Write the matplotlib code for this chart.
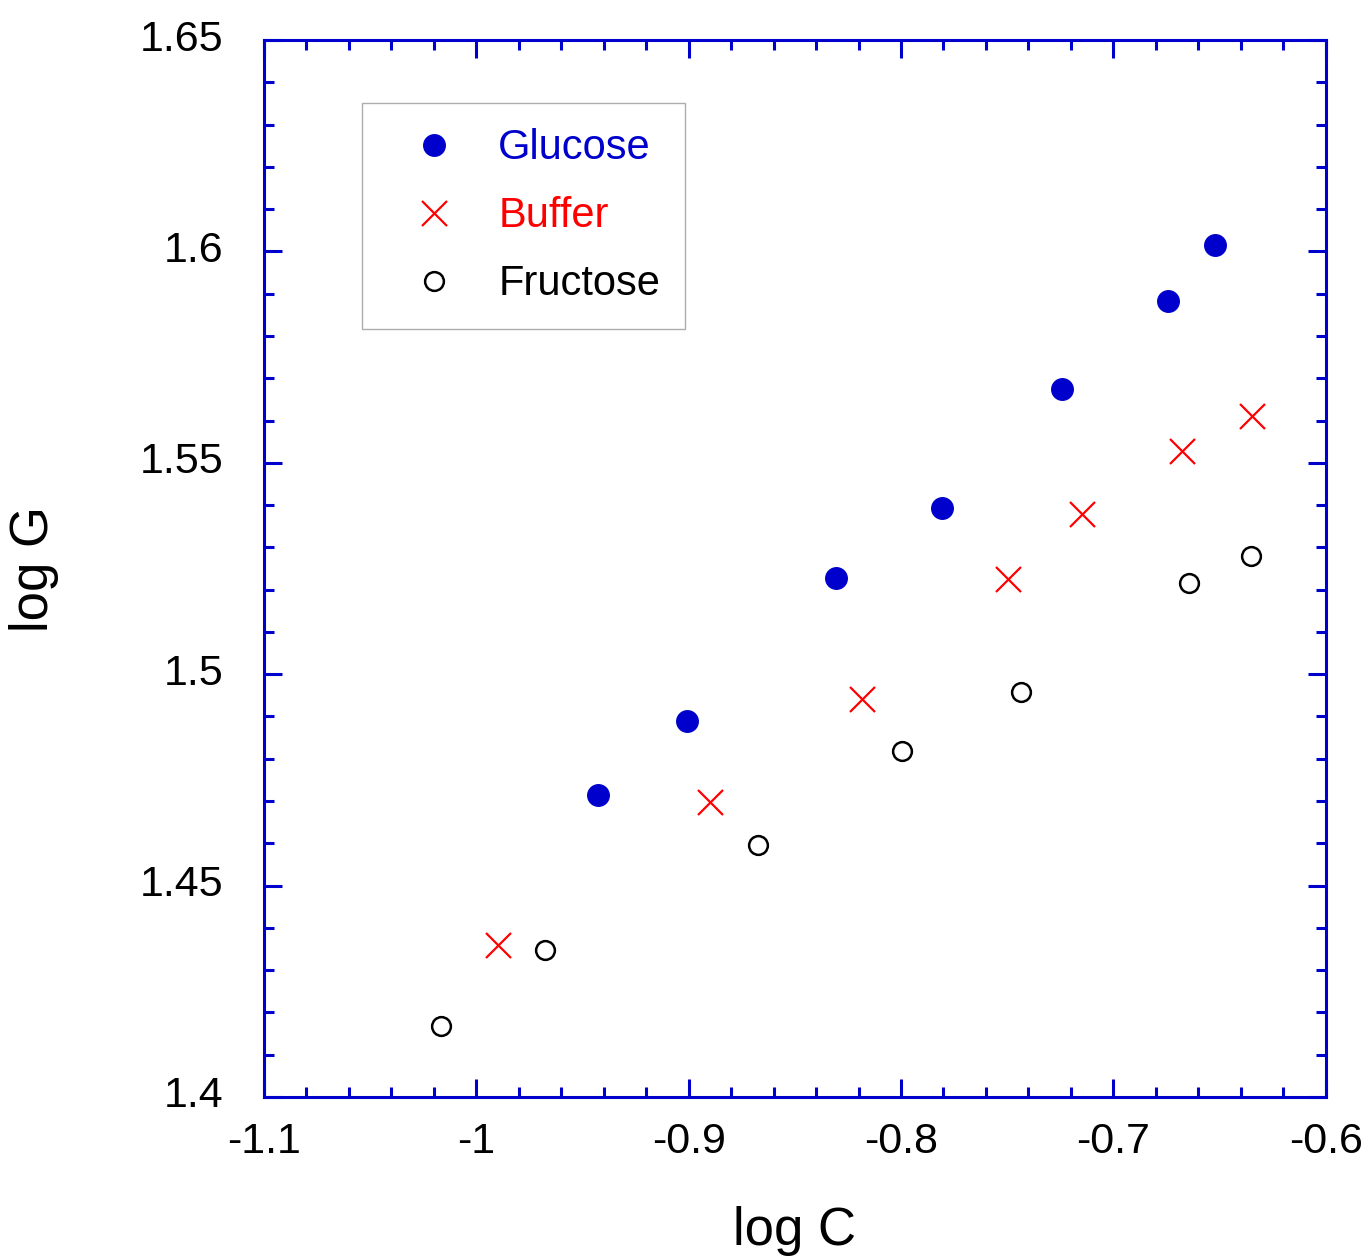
import matplotlib
matplotlib.use("Agg")
import matplotlib.pyplot as plt
import matplotlib.transforms as mtransforms
from matplotlib.ticker import MultipleLocator

plt.rcParams['font.family'] = ['Liberation Sans', 'DejaVu Sans']

glucose_x = [-0.9427, -0.9008, -0.8307, -0.7808, -0.7243, -0.6744, -0.6523]
glucose_y = [1.4714, 1.4889, 1.5228, 1.5393, 1.5675, 1.5883, 1.6015]
buffer_x = [-0.9898, -0.8900, -0.8185, -0.7497, -0.7149, -0.6678, -0.6348]
buffer_y = [1.4360, 1.4698, 1.4941, 1.5225, 1.5379, 1.5528, 1.5611]
fructose_x = [-1.0167, -0.9677, -0.8674, -0.7996, -0.7436, -0.6645, -0.6353]
fructose_y = [1.4168, 1.4348, 1.4596, 1.4818, 1.4958, 1.5216, 1.5280]

xticks = [-1.1, -1.0, -0.9, -0.8, -0.7, -0.6]
xticklabels = ['-1.1', '-1', '-0.9', '-0.8', '-0.7', '-0.6']
yticks = [1.4, 1.45, 1.5, 1.55, 1.6, 1.65]
yticklabels = ['1.4', '1.45', '1.5', '1.55', '1.6', '1.65']

blue = '#0000CC'
fig = plt.figure(figsize=(13.61, 12.56), dpi=100)
ax = fig.add_axes([0.194, 0.1266, 0.780, 0.8415])

ax.plot(glucose_x, glucose_y, 'o', color=blue, markersize=15.5, linestyle='none', label='Glucose')
ax.plot(buffer_x, buffer_y, 'x', color='red', markersize=18, markeredgewidth=1.6, linestyle='none', label='Buffer')
ax.plot(fructose_x, fructose_y, 'o', markerfacecolor='white', markeredgecolor='black',
        markersize=13.5, markeredgewidth=1.8, linestyle='none', label='Fructose')

ax.set_xlim(-1.1, -0.6)
ax.set_ylim(1.4, 1.65)
ax.set_xticks(xticks)
ax.set_xticklabels(xticklabels)
ax.set_yticks(yticks)
ax.set_yticklabels(yticklabels)
ax.xaxis.set_minor_locator(MultipleLocator(0.02))
ax.yaxis.set_minor_locator(MultipleLocator(0.01))
for s in ax.spines.values():
    s.set_color(blue)
    s.set_linewidth(2.2)
ax.tick_params(which='both', direction='in', top=True, right=True, color=blue, width=2.2,
               labelsize=31, labelcolor='black')
ax.tick_params(which='major', length=13)
ax.tick_params(which='minor', length=7)
ax.tick_params(axis='y', which='major', pad=29)
ax.tick_params(axis='x', which='major', pad=18)

offset = mtransforms.ScaledTranslation(0, 0.05, fig.dpi_scale_trans)
for lab in ax.get_yticklabels():
    lab.set_transform(lab.get_transform() + offset)

ax.set_xlabel('log C', fontsize=38, labelpad=32)
ax.set_ylabel('log G', fontsize=38, labelpad=58)

leg = ax.legend(loc='upper left', bbox_to_anchor=(0.092, 0.940), fontsize=30, frameon=True,
                fancybox=False, edgecolor='#999999', borderpad=0.6, labelspacing=0.67,
                handletextpad=0.43, handlelength=2.25, borderaxespad=0)
leg.get_frame().set_linewidth(1)
for t, c in zip(leg.get_texts(), [blue, 'red', 'black']):
    t.set_color(c)

fig.savefig('out.png', dpi=100)
